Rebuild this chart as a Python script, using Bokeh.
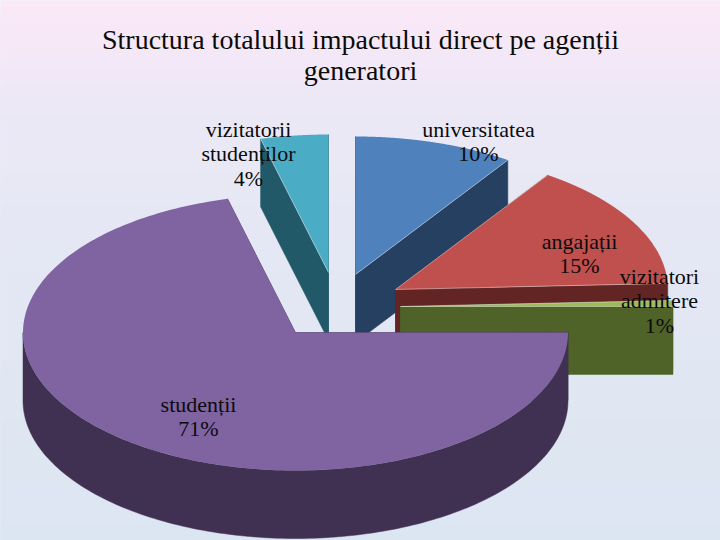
import numpy as np
from bokeh.plotting import figure
from bokeh.models import Range1d
from bokeh.core.properties import value
from bokeh.embed import file_html
from bokeh.resources import INLINE

# ---- data ----
categories = ["universitatea", "angajații", "vizitatori admitere", "studenții", "vizitatorii studenților"]
shares = [9.44, 14.86, 0.69, 71.0, 4.01]          # slice sweep, % of the circle
shown_percent = [10, 15, 1, 71, 4]                # rounded numbers printed on the chart
title_lines = ["Structura totalului impactului direct pe agenții", "generatori"]
label_lines = [["universitatea"], ["angajații"], ["vizitatori", "admitere"], ["studenții"], ["vizitatorii", "studenților"]]

# ---- style / layout ----
top_colors = ["#4F81BD", "#C0504D", "#9BBB59", "#8064A2", "#4BACC6"]
wall_colors = ["#254061", "#632523", "#4F6228", "#403152", "#215968"]
apex = [(355, 274), (395, 289), (400, 306), (295, 332), (328, 272)]
label_pos = [(478, 129), (579, 241), (659, 276), (198, 404), (248, 129)]
RX, RY, DEPTH = 272.5, 138.0, 68.0
LINE_GAP = 24.4
FONT = "Liberation Serif"
LABEL_SIZE = "22px"
TITLE_SIZE = "28px"
TEXT_COLOR = "#0b0b0b"
DRAW_ORDER = [0, 4, 1, 2, 3]

W, H = 720, 540
p = figure(width=W, height=H, output_backend="svg", toolbar_location=None,
           x_range=Range1d(0, 720), y_range=Range1d(540, 0),
           min_border=0, min_border_left=0, min_border_right=0, min_border_top=0, min_border_bottom=0)
p.axis.visible = False
p.grid.visible = False
p.outline_line_color = None
p.background_fill_color = "#E6E8F4"
p.border_fill_color = None

# background gradient painted as overlapping bands
stops_y = [0, 100, 300, 540]
stops_c = np.array([[251, 232, 248], [236, 232, 246], [226, 231, 243], [220, 230, 242]], float)
band_y = np.arange(0, 540, 6)
band_col = ["#%02x%02x%02x" % tuple(int(round(np.interp(y, stops_y, stops_c[:, i]))) for i in range(3)) for y in band_y]
p.quad(left=0, right=720, top=band_y, bottom=540, fill_color=band_col, line_color=None)

# slice angles, clockwise from 12 o'clock (in ellipse parameter)
cum = np.concatenate([[0], np.cumsum(shares)])
starts = 90 - cum[:-1] * 3.6
ends = 90 - cum[1:] * 3.6


def rim(cx, cy, t0, t1, n=120):
    t = np.radians(np.linspace(t0, t1, n))
    return cx + RX * np.cos(t), cy - RY * np.sin(t)


for i in DRAW_ORDER:
    cx, cy = apex[i]
    t0, t1 = starts[i], ends[i]
    # radial cut walls
    for t in (t0, t1):
        ex, ey = rim(cx, cy, t, t, 1)
        p.patch([cx, ex[0], ex[0], cx], [cy, ey[0], ey[0] + DEPTH, cy + DEPTH],
                fill_color=wall_colors[i], line_color=wall_colors[i], line_width=0.5)
    # outer wall: only the part of the rim that faces the viewer
    front0 = max(t1, -180.0)
    front1 = min(t0, 0.0)
    if front0 < front1:
        ax, ay = rim(cx, cy, front1, front0, 160)
        p.patch(np.concatenate([ax, ax[::-1]]), np.concatenate([ay, ay[::-1] + DEPTH]),
                fill_color=wall_colors[i], line_color=wall_colors[i], line_width=0.5)
    # top face
    ax, ay = rim(cx, cy, t0, t1, 240)
    p.patch(np.concatenate([[cx], ax]), np.concatenate([[cy], ay]),
            fill_color=top_colors[i], line_color=None)
    # pale highlight along the cut edge
    for t in (t0, t1):
        ex, ey = rim(cx, cy, t, t, 1)
        if abs(np.cos(np.radians(t))) > 0.01 and i != 3:
            p.line([cx, ex[0]], [cy, ey[0]], line_color="#ffffff", line_alpha=0.55, line_width=0.8)

# labels
for i in range(len(categories)):
    x, y = label_pos[i]
    lines = label_lines[i] + ["%d%%" % shown_percent[i]]
    p.text(x=[x] * len(lines), y=[y + k * LINE_GAP for k in range(len(lines))], text=lines,
           text_font=value(FONT), text_font_size=LABEL_SIZE, text_color=TEXT_COLOR,
           text_align="center", text_baseline="middle")

# title
p.text(x=[360, 360], y=[39, 70], text=title_lines,
       text_font=value(FONT), text_font_size=TITLE_SIZE, text_color=TEXT_COLOR,
       text_align="center", text_baseline="middle")

open("out.html", "w").write(file_html(p, INLINE))
